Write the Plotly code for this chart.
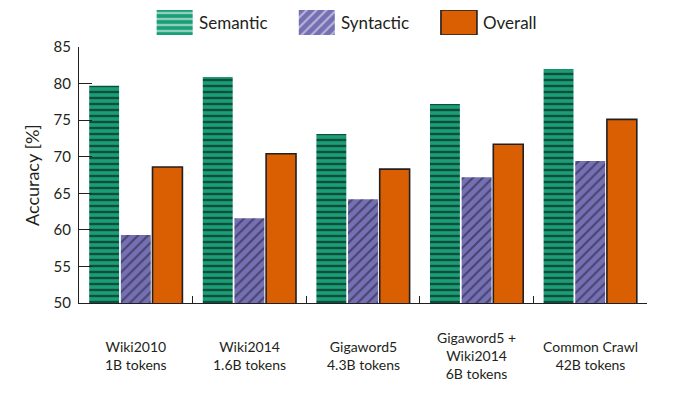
import plotly.graph_objects as go

categories = ["Wiki2010<br>1B tokens", "Wiki2014<br>1.6B tokens", "Gigaword5<br>4.3B tokens",
              "Gigaword5 +<br>Wiki2014<br>6B tokens", "Common Crawl<br>42B tokens"]
cat_keys = ["c1", "c2", "c3", "c4", "c5"]
semantic = [79.7, 80.9, 73.1, 77.2, 82.0]
syntactic = [59.3, 61.6, 64.2, 67.2, 69.4]
overall = [68.6, 70.4, 68.3, 71.7, 75.1]
series_names = ["Semantic", "Syntactic", "Overall"]
y_ticks = [50, 55, 60, 65, 70, 75, 80, 85]

GREEN = "#1b9e77"
PURPLE = "#7570b3"
ORANGE = "#d95f02"
INK = "#231f20"
HLINE = "#000000"
DLINE = "#1a1528"
FONT = "Lato"

W, H = 696, 397
L, R, T, B = 79, 49, 0, 94
plot_h = H - T - B
main_top = 256 / plot_h

fig = go.Figure()
fig.add_trace(go.Bar(x=cat_keys, y=semantic, name="Semantic", showlegend=False,
                     marker=dict(color=GREEN, line=dict(width=0),
                                 pattern=dict(shape="-", size=6, solidity=0.4,
                                              fgcolor=HLINE, bgcolor=GREEN, fillmode="overlay"))))
fig.add_trace(go.Bar(x=cat_keys, y=syntactic, name="Syntactic", showlegend=False,
                     marker=dict(color=PURPLE, line=dict(width=0),
                                 pattern=dict(shape="/", size=7, solidity=0.28,
                                              fgcolor=DLINE, bgcolor=PURPLE, fillmode="overlay"))))
fig.add_trace(go.Bar(x=cat_keys, y=overall, name="Overall", showlegend=False,
                     marker=dict(color=ORANGE, line=dict(width=1.6, color=INK))))

# legend swatches on a small auxiliary axis
fig.add_trace(go.Bar(x=series_names, y=[1, 1, 1], xaxis="x2", yaxis="y2", showlegend=False,
                     width=0.2535, hoverinfo="skip",
                     marker=dict(color=[GREEN, PURPLE, ORANGE],
                                 line=dict(width=[0, 0, 1.6], color=INK),
                                 pattern=dict(shape=["-", "/", ""], size=[6, 7, 7],
                                              solidity=[0.4, 0.28, 0.2],
                                              fgcolor=[HLINE, DLINE, INK],
                                              bgcolor=[GREEN, PURPLE, ORANGE],
                                              fillmode="overlay"))))

annotations = []
for i, nm in enumerate(series_names):
    annotations.append(dict(x=i + 0.156, y=0.5, xref="x2", yref="y2", text=nm,
                            showarrow=False, xanchor="left", yanchor="middle",
                            font=dict(family=FONT, size=17, color=INK)))
for k, lab in zip(cat_keys, categories):
    annotations.append(dict(x=k, y=(303 - 355) / plot_h, xref="x", yref="paper", text=lab,
                            showarrow=False, xanchor="center", yanchor="middle",
                            font=dict(family=FONT, size=14, color=INK)))
annotations.append(dict(x=(32 - L) / (W - L - R), y=main_top / 2, xref="paper", yref="paper",
                        text="Accuracy [%]", textangle=-90, showarrow=False,
                        xanchor="center", yanchor="middle",
                        font=dict(family=FONT, size=18, color=INK)))

fig.update_layout(
    width=W, height=H,
    margin=dict(l=L, r=R, t=T, b=B, autoexpand=False),
    paper_bgcolor="white", plot_bgcolor="white",
    barmode="group", bargap=0.164, bargroupgap=0.055,
    font=dict(family=FONT, size=14, color=INK),
    xaxis=dict(type="category", domain=[0, 1], anchor="y", showline=True, linecolor=INK,
               linewidth=1.3, ticks="inside", ticklen=7, tickcolor=INK, tickwidth=1.3,
               tickson="boundaries", showticklabels=False, showgrid=False, zeroline=False,
               range=[-0.5, 4.5]),
    yaxis=dict(domain=[0, main_top], range=[50, 85], tickvals=y_ticks, showline=True,
               linecolor=INK, linewidth=1.3, ticks="inside", ticklen=13, tickcolor=INK,
               tickwidth=1.3, showgrid=False, zeroline=False, ticklabelstandoff=4,
               tickfont=dict(family=FONT, size=15, color=INK)),
    xaxis2=dict(type="category", domain=[0, 1], anchor="y2", range=[-0.673, 3.323],
                visible=False),
    yaxis2=dict(domain=[(303 - 35) / plot_h, (303 - 10) / plot_h], range=[0, 1],
                anchor="x2", visible=False),
    annotations=annotations,
)

fig.write_html("out.html")
